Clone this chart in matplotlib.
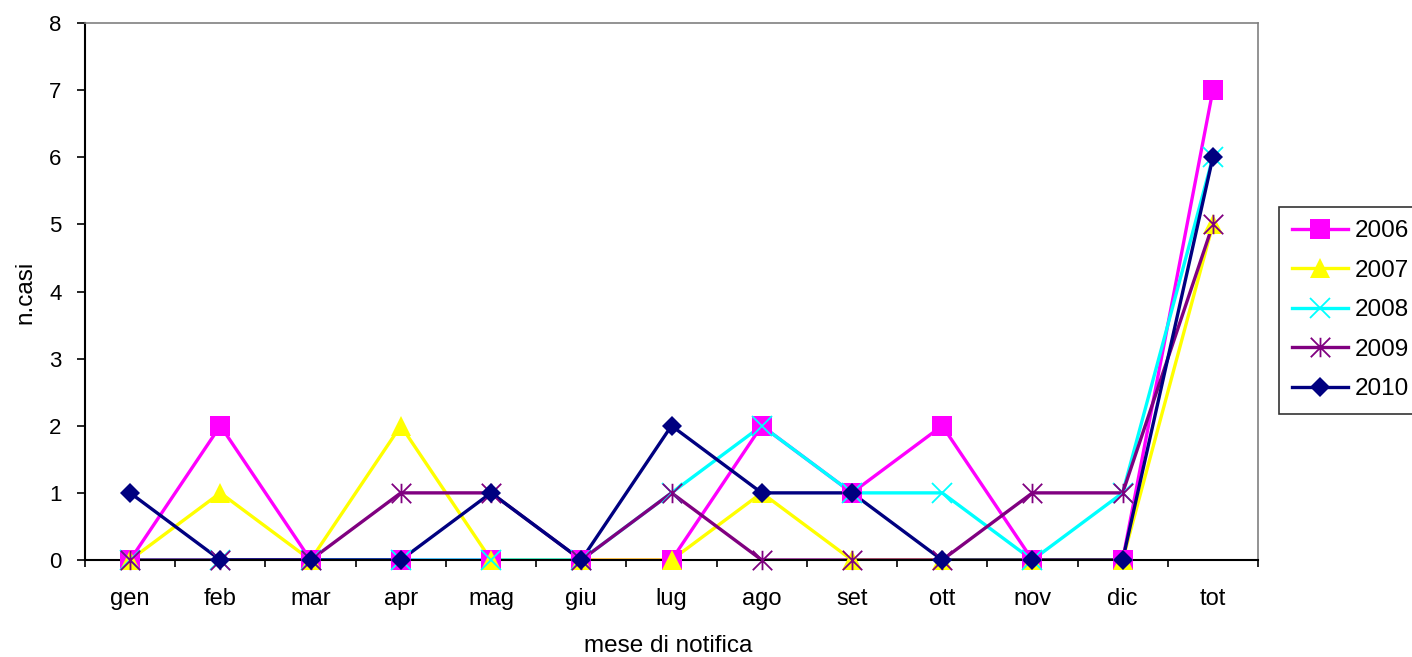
import matplotlib
matplotlib.use("Agg")
import matplotlib.pyplot as plt
from matplotlib.path import Path
from matplotlib.ticker import FixedLocator

plt.rcParams['font.family'] = ['Liberation Sans', 'DejaVu Sans']

months = ["gen", "feb", "mar", "apr", "mag", "giu", "lug", "ago", "set", "ott", "nov", "dic", "tot"]
years = ["2006", "2007", "2008", "2009", "2010"]

cases_2006 = [0, 2, 0, 0, 0, 0, 0, 2, 1, 2, 0, 0, 7]
cases_2007 = [0, 1, 0, 2, 0, 0, 0, 1, 0, 0, 0, 0, 5]
cases_2008 = [0, 0, 0, 0, 0, 0, 1, 2, 1, 1, 0, 1, 6]
cases_2009 = [0, 0, 0, 1, 1, 0, 1, 0, 0, 0, 1, 1, 5]
cases_2010 = [1, 0, 0, 0, 1, 0, 2, 1, 1, 0, 0, 0, 6]
series = [cases_2006, cases_2007, cases_2008, cases_2009, cases_2010]

colors = ["#FF00FF", "#FFFF00", "#00FFFF", "#800080", "#000080"]

# Excel-style asterisk: an X crossed by a vertical bar
star = Path([(-1, -1), (1, 1), (-1, 1), (1, -1), (0, -1), (0, 1)],
            [Path.MOVETO, Path.LINETO, Path.MOVETO, Path.LINETO, Path.MOVETO, Path.LINETO])
markers = ["s", "^", "x", star, "D"]
msizes = [14, 14, 14, 14, 10.5]
mew = [0, 0, 1.3, 1.3, 0]

W, H = 1412, 657
fig = plt.figure(figsize=(W / 100, H / 100), dpi=100)
ax = fig.add_axes([85 / W, (H - 560) / H, (1258 - 85) / W, (560 - 23) / H])

x = list(range(len(months)))
handles = []
for i, (vals, c) in enumerate(zip(series, colors)):
    ax.plot(x, vals, color=c, lw=2.4, zorder=2 + i * 0.01, solid_joinstyle="miter")
    ax.plot(x, vals, ls="none", marker=markers[i], ms=msizes[i], mfc=c, mec=c,
            mew=mew[i], zorder=3 + i * 0.01, clip_on=False)
    h, = ax.plot([], [], color=c, lw=2.4, marker=markers[i], ms=msizes[i], mfc=c,
                 mec=c, mew=mew[i])
    handles.append(h)

ax.set_xlim(-0.5, len(months) - 0.5)
ax.set_ylim(0, 8)
ax.set_yticks(range(0, 9))
ax.set_xticks(x)
ax.set_xticklabels(months)
ax.xaxis.set_minor_locator(FixedLocator([k + 0.5 for k in range(-1, len(months))]))
ax.tick_params(axis="x", which="major", length=0, pad=20, labelsize=17)
ax.tick_params(axis="x", which="minor", length=5, width=1.2, direction="out", color="black")
ax.tick_params(axis="y", length=6, width=1.2, direction="out", pad=11, labelsize=16)

for s in ("top", "right"):
    ax.spines[s].set_color("#808080")
    ax.spines[s].set_linewidth(1.2)
for s in ("left", "bottom"):
    ax.spines[s].set_color("black")
    ax.spines[s].set_linewidth(1.5)

fig.text(668 / W, 1 - 652 / H, "mese di notifica", ha="center", va="baseline", fontsize=17.5)
fig.text(25 / W, 1 - 292 / H, "n.casi", ha="center", va="center", rotation=90, fontsize=17.5)

leg = fig.legend(handles, years, loc="upper left", bbox_to_anchor=(1279 / W, 1 - 207 / H),
                 frameon=True, fancybox=False, fontsize=17.5, handlelength=2.3,
                 handletextpad=0.25, labelspacing=0.72, borderpad=0.55, borderaxespad=0)
leg.get_frame().set_edgecolor("black")
leg.get_frame().set_linewidth(1.2)

fig.savefig("out.png", dpi=100)
